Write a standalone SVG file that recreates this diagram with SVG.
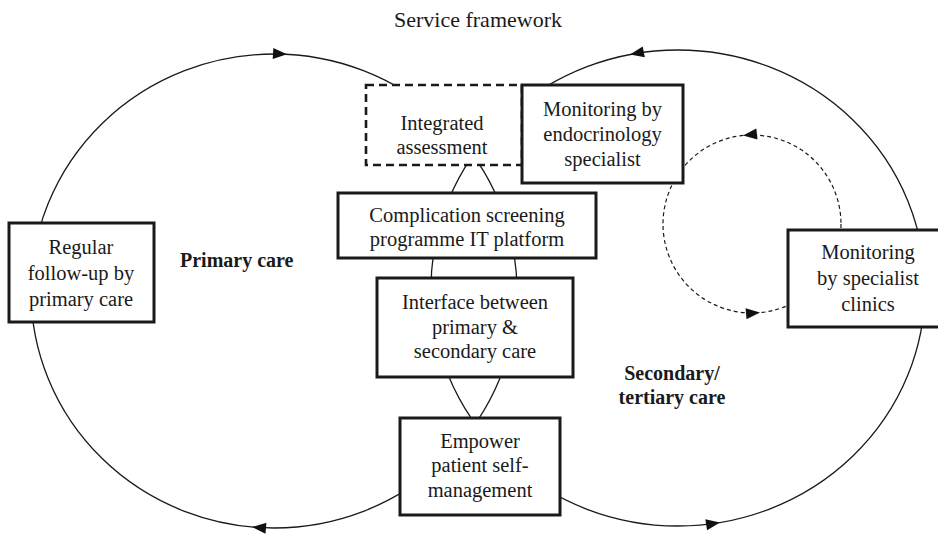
<svg xmlns="http://www.w3.org/2000/svg" xmlns:xlink="http://www.w3.org/1999/xlink" width="938" height="534" viewBox="0 0 938 534">
  <style>
    .loop { fill: none; stroke: #1a1a1a; stroke-width: 1.3; }
    .loop-dash { fill: none; stroke: #1a1a1a; stroke-width: 1.2; stroke-dasharray: 4 3; }
    .box { fill: #ffffff; stroke: #1a1a1a; stroke-width: 3; }
    .box-dash { fill: #ffffff; stroke: #1a1a1a; stroke-width: 2.6; stroke-dasharray: 8 5; }
    .label { font-family: "Liberation Serif", "Times New Roman", serif; font-size: 20.5px; fill: #1a1a1a; text-anchor: middle; }
    .title { font-family: "Liberation Serif", "Times New Roman", serif; font-size: 22px; fill: #1a1a1a; text-anchor: middle; }
    .zone { font-family: "Liberation Serif", "Times New Roman", serif; font-size: 20px; font-weight: bold; fill: #1a1a1a; }
    .head { fill: #111111; }
  </style>
  <defs>
    <!-- arrowhead, tip at the origin, pointing along +x -->
    <path id="ah" d="M0,0 L-14,-5.5 L-14,5.5 Z"/>
  </defs>

  <rect width="938" height="534" fill="#ffffff"/>

  <text class="title" x="478" y="27">Service framework</text>

  <!-- care cycles and the specialist sub-cycle -->
  <g id="connectors">
    <ellipse class="loop" cx="274" cy="291" rx="243" ry="237"/>
    <ellipse class="loop" cx="678" cy="288" rx="247" ry="238"/>
    <circle class="loop-dash" cx="752" cy="224" r="89"/>
    <use xlink:href="#ah" class="head" transform="translate(287,54.3) rotate(3)"/>
    <use xlink:href="#ah" class="head" transform="translate(252,527) rotate(185)"/>
    <use xlink:href="#ah" class="head" transform="translate(630,54.5) rotate(169)"/>
    <use xlink:href="#ah" class="head" transform="translate(720,522.5) rotate(-9.4)"/>
    <use xlink:href="#ah" class="head" transform="translate(743,135.5) rotate(174)"/>
    <use xlink:href="#ah" class="head" transform="translate(760,312.6) rotate(-5)"/>
  </g>

  <g id="integrated-assessment">
    <rect class="box-dash" x="366" y="85" width="156" height="80"/>
    <text class="label" x="442" y="130">Integrated</text>
    <text class="label" x="442" y="154">assessment</text>
  </g>

  <g id="endocrinology">
    <rect class="box" x="522" y="85" width="161" height="98"/>
    <text class="label" x="602.5" y="116">Monitoring by</text>
    <text class="label" x="602.5" y="141">endocrinology</text>
    <text class="label" x="602.5" y="166">specialist</text>
  </g>

  <g id="screening-platform">
    <rect class="box" x="338" y="193" width="258" height="65"/>
    <text class="label" x="467" y="222">Complication screening</text>
    <text class="label" x="467" y="246">programme IT platform</text>
  </g>

  <g id="interface">
    <rect class="box" x="377" y="278" width="196" height="99"/>
    <text class="label" x="475" y="309">Interface between</text>
    <text class="label" x="475" y="334">primary &amp;</text>
    <text class="label" x="475" y="358">secondary care</text>
  </g>

  <g id="self-management">
    <rect class="box" x="400" y="418" width="160" height="97"/>
    <text class="label" x="480" y="448">Empower</text>
    <text class="label" x="480" y="472">patient self-</text>
    <text class="label" x="480" y="497">management</text>
  </g>

  <g id="specialist-clinics">
    <rect class="box" x="788" y="230" width="162" height="97"/>
    <text class="label" x="868" y="259">Monitoring</text>
    <text class="label" x="868" y="285">by specialist</text>
    <text class="label" x="868" y="311">clinics</text>
  </g>

  <g id="primary-follow-up">
    <rect class="box" x="9" y="223" width="145" height="99"/>
    <text class="label" x="81" y="254">Regular</text>
    <text class="label" x="81" y="280">follow-up by</text>
    <text class="label" x="81" y="306">primary care</text>
  </g>

  <g id="zone-labels">
    <text class="zone" x="180" y="267">Primary care</text>
    <text class="zone" x="672" y="380" text-anchor="middle">Secondary/</text>
    <text class="zone" x="672" y="404" text-anchor="middle">tertiary care</text>
  </g>
</svg>
